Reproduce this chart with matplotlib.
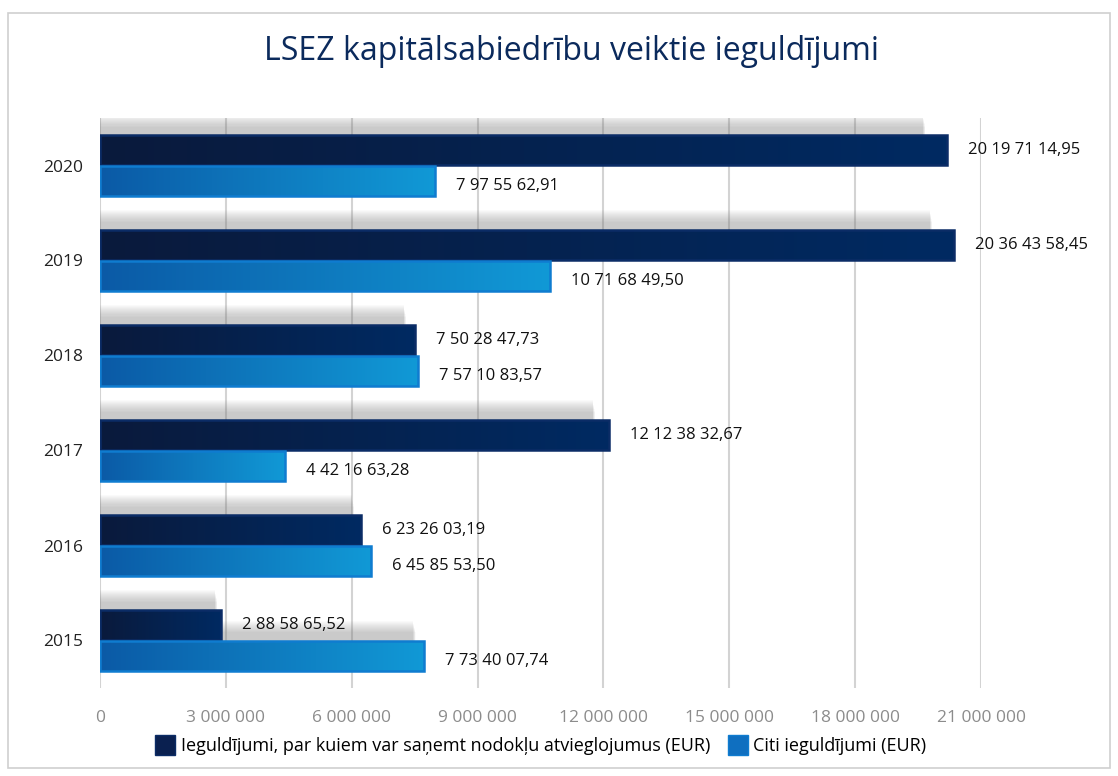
import matplotlib
matplotlib.use("Agg")
import matplotlib.pyplot as plt
import numpy as np
from matplotlib.patches import Patch, Rectangle
from matplotlib.colors import LinearSegmentedColormap

plt.rcParams["font.family"] = ["Open Sans", "DejaVu Sans"]

years = ["2015", "2016", "2017", "2018", "2019", "2020"]
relief_values = [2885865.52, 6232603.19, 12123832.67, 7502847.73, 20364358.45, 20197114.95]
other_values = [7734007.74, 6458553.50, 4421663.28, 7571083.57, 10716849.50, 7975562.91]
relief_labels = ["2 88 58 65,52", "6 23 26 03,19", "12 12 38 32,67",
                 "7 50 28 47,73", "20 36 43 58,45", "20 19 71 14,95"]
other_labels = ["7 73 40 07,74", "6 45 85 53,50", "4 42 16 63,28",
                "7 57 10 83,57", "10 71 68 49,50", "7 97 55 62,91"]
series_names = ["Ieguldījumi, par kuiem var saņemt nodokļu atvieglojumus (EUR)",
                "Citi ieguldījumi (EUR)"]
x_ticks = [0, 3e6, 6e6, 9e6, 12e6, 15e6, 18e6, 21e6]
x_tick_labels = ["0", "3 000 000", "6 000 000", "9 000 000", "12 000 000",
                 "15 000 000", "18 000 000", "21 000 000"]

dark_cmap = LinearSegmentedColormap.from_list("dark", ["#0a1a3c", "#002a62"])
light_cmap = LinearSegmentedColormap.from_list("light", ["#0b5aa6", "#1199d6"])
grad = np.linspace(0, 1, 256).reshape(1, -1)

fig = plt.figure(figsize=(11.18, 7.76), dpi=100)
ax = fig.add_axes([100 / 1118, 88 / 776, 881 / 1118, 570 / 776])

bar_h = 0.315
xmax = x_ticks[-1]


def draw_bar(y, value, cmap, edge):
    # soft grey shadow, offset up and to the left
    for k in range(12):
        pad = k * 0.011
        ax.add_patch(Rectangle((-0.02e6 - pad * 2.0e6, y - bar_h / 2 + 0.06 - pad * 0.3),
                               value * 0.975 + pad * 1.5e6, bar_h + 0.03 + 1.3 * pad,
                               facecolor="#808080", edgecolor="none", alpha=0.038, zorder=2))
    ax.imshow(grad, cmap=cmap, aspect="auto", interpolation="bicubic",
              extent=(0, value, y - bar_h / 2, y + bar_h / 2), zorder=3)
    ax.add_patch(Rectangle((0, y - bar_h / 2), value, bar_h, facecolor="none",
                           edgecolor=edge, linewidth=1.8, zorder=4))


for i in range(len(years)):
    draw_bar(i + bar_h / 2 + 0.005, relief_values[i], dark_cmap, "#0b2c66")
    draw_bar(i - bar_h / 2 - 0.005, other_values[i], light_cmap, "#0f7cd0")
    ax.text(relief_values[i] + 0.5e6, i + bar_h / 2 + 0.01, relief_labels[i],
            va="center", ha="left", fontsize=12, color="#111111", zorder=5, clip_on=False)
    ax.text(other_values[i] + 0.5e6, i - bar_h / 2 - 0.06, other_labels[i],
            va="center", ha="left", fontsize=12, color="#111111", zorder=5, clip_on=False)

ax.set_xlim(0, xmax)
ax.set_ylim(-0.5, len(years) - 0.5)
ax.set_xticks(x_ticks)
ax.set_xticklabels(x_tick_labels, fontsize=12.5, color="#8c8c8c")
ax.set_yticks(range(len(years)))
ax.set_yticklabels(years, fontsize=12.5, color="#222222")
ax.tick_params(axis="both", length=0)
ax.tick_params(axis="x", pad=16)
ax.tick_params(axis="y", pad=12)
ax.grid(axis="x", color="#d3d3d3", linewidth=1.5, zorder=0)
ax.set_axisbelow(True)
for spine in ax.spines.values():
    spine.set_visible(False)

fig.text(572 / 1118, 1 - 52 / 776, "LSEZ kapitālsabiedrību veiktie ieguldījumi",
         ha="center", va="center", fontsize=23, color="#0b2a5c")

handles = [Patch(facecolor="#0a2050", edgecolor="#0b2c66"),
           Patch(facecolor="#0f6fc0", edgecolor="#0f7cd0")]
fig.legend(handles, series_names, loc="center", bbox_to_anchor=(541 / 1118, 1 - 745 / 776),
           ncol=2, frameon=False, fontsize=13, handlelength=1.1, handleheight=1.35,
           handletextpad=0.3, columnspacing=1.0)

fig.add_artist(Rectangle((8 / 1118, 8 / 776), 1102 / 1118, 755 / 776,
                         transform=fig.transFigure, facecolor="none",
                         edgecolor="#cfcfcf", linewidth=1.2))

fig.savefig("out.png", dpi=100)
